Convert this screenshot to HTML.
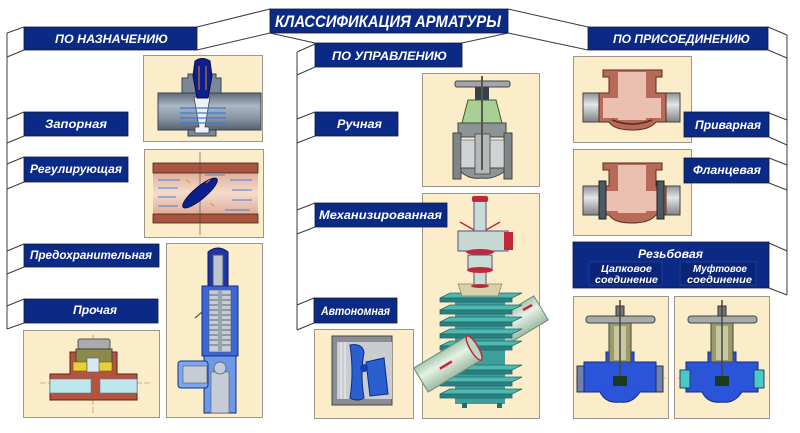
<!DOCTYPE html>
<html><head><meta charset="utf-8"><style>
html,body{margin:0;padding:0;background:#fff;}
svg{display:block;}
.t{font-family:"Liberation Sans","DejaVu Sans",sans-serif;font-weight:bold;font-style:italic;fill:#fff;}
</style></head><body>
<svg width="800" height="433" viewBox="0 0 800 433" xmlns="http://www.w3.org/2000/svg">
<defs>
<linearGradient id="gGray" x1="0" y1="0" x2="0" y2="1">
<stop offset="0" stop-color="#5f6b7b"/><stop offset="0.35" stop-color="#aab6c4"/><stop offset="0.7" stop-color="#8793a3"/><stop offset="1" stop-color="#56606e"/></linearGradient>
<linearGradient id="gCu" x1="0" y1="0" x2="0" y2="1">
<stop offset="0" stop-color="#d49a86"/><stop offset="0.5" stop-color="#f5dbcc"/><stop offset="1" stop-color="#d49a86"/></linearGradient>
<linearGradient id="gPipeG" x1="0" y1="0" x2="0" y2="1">
<stop offset="0" stop-color="#8d9294"/><stop offset="0.4" stop-color="#e4e6e6"/><stop offset="1" stop-color="#7d8284"/></linearGradient>
<linearGradient id="gGreen" x1="0" y1="0" x2="0" y2="1">
<stop offset="0" stop-color="#a9c8b0"/><stop offset="0.4" stop-color="#e6f2e4"/><stop offset="1" stop-color="#9dbba4"/></linearGradient>
</defs>
<rect width="800" height="433" fill="#fff"/>

<!-- image frames -->
<g fill="#fbecca" stroke="#9c978b" stroke-width="1">
<rect x="143.5" y="55.5" width="119" height="86"/>
<rect x="144.5" y="149.5" width="119" height="88"/>
<rect x="166.5" y="243.5" width="96" height="174"/>
<rect x="23.5" y="330.5" width="136" height="87"/>
<rect x="422.5" y="73.5" width="117" height="113"/>
<rect x="422.5" y="193.5" width="117" height="225"/>
<rect x="314.5" y="329.5" width="99" height="89"/>
<rect x="573.5" y="56.5" width="118" height="86"/>
<rect x="573.5" y="149.5" width="118" height="86"/>
<rect x="573.5" y="296.5" width="95" height="122"/>
<rect x="674.5" y="296.5" width="95" height="122"/>
</g>

<!-- Запорная -->
<rect x="158" y="93" width="103" height="37" fill="url(#gGray)" stroke="#3b4350"/>
<path d="M182 93 V78 H188 V74 H216 V78 H221 V93 Z" fill="#7c8797" stroke="#3b4350"/>
<path d="M188 130 V136 H216 V130 Z" fill="#7c8797" stroke="#3b4350"/>
<path d="M194 97 L210 97 L205 127 H209 V133 H195 V127 H199 Z" fill="#eef2f6" stroke="#3b4350" stroke-width="0.8"/>
<path d="M195 61 Q202 56 210 61 L212 76 L208 98 H197 L193 76 Z" fill="#0d1f8c" stroke="#061050"/>
<g stroke="#e08030" stroke-width="1"><line x1="199" y1="66" x2="199" y2="90"/><line x1="206" y1="66" x2="206" y2="90"/></g>
<g stroke="#3a7ad8" stroke-width="1.2"><line x1="180" y1="108" x2="226" y2="108"/><line x1="180" y1="113" x2="226" y2="113"/><line x1="180" y1="118" x2="226" y2="118"/><line x1="180" y1="123" x2="226" y2="123"/></g>

<!-- Регулирующая -->
<rect x="153" y="163" width="105" height="60" fill="url(#gCu)"/>
<rect x="153" y="163" width="105" height="10" fill="#a8553f" stroke="#4a2418" stroke-width="0.8"/>
<rect x="153" y="214" width="105" height="9" fill="#a8553f" stroke="#4a2418" stroke-width="0.8"/>
<line x1="200" y1="152" x2="200" y2="235" stroke="#444" stroke-width="0.6"/>
<g stroke="#4a80d8" stroke-width="0.9"><line x1="158" y1="180" x2="180" y2="180"/><line x1="158" y1="188" x2="178" y2="188"/><line x1="158" y1="197" x2="176" y2="197"/><line x1="158" y1="206" x2="178" y2="206"/><line x1="230" y1="180" x2="252" y2="180"/><line x1="232" y1="190" x2="252" y2="190"/><line x1="232" y1="200" x2="252" y2="200"/><line x1="225" y1="210" x2="250" y2="210"/><line x1="205" y1="175" x2="225" y2="175"/></g>
<ellipse cx="200" cy="193" rx="22" ry="6" transform="rotate(-40 200 193)" fill="#0d1f8c" stroke="#061050"/>
<g stroke="#f08a20" stroke-width="1"><line x1="190" y1="183" x2="186" y2="180"/><line x1="210" y1="203" x2="214" y2="206"/><line x1="206" y1="183" x2="210" y2="180"/></g>

<!-- Предохранительная -->
<path d="M208 252 Q218 244 228 252 V287 H208 Z" fill="#1d35a8" stroke="#0a1660"/>
<rect x="213" y="255" width="10" height="32" fill="#bcc4cc" stroke="#556"/>
<rect x="202" y="286" width="36" height="70" fill="#3a66d8" stroke="#12307a"/>
<rect x="209" y="290" width="22" height="62" fill="#c5ccd6" stroke="#556" stroke-width="0.6"/>
<g stroke="#5a6470" stroke-width="1"><line x1="209" y1="295" x2="231" y2="295"/><line x1="209" y1="300" x2="231" y2="300"/><line x1="209" y1="305" x2="231" y2="305"/><line x1="209" y1="310" x2="231" y2="310"/><line x1="209" y1="315" x2="231" y2="315"/><line x1="209" y1="320" x2="231" y2="320"/><line x1="209" y1="325" x2="231" y2="325"/><line x1="209" y1="330" x2="231" y2="330"/><line x1="209" y1="335" x2="231" y2="335"/><line x1="209" y1="340" x2="231" y2="340"/><line x1="209" y1="345" x2="231" y2="345"/></g>
<rect x="218" y="290" width="4" height="62" fill="#9aa4ae"/>
<path d="M204 356 H236 V413 H204 Z" fill="#6f98ea" stroke="#12307a"/>
<rect x="211" y="372" width="18" height="41" fill="#c5ccd6" stroke="#556" stroke-width="0.6"/>
<circle cx="220" cy="368" r="6" fill="#c5ccd6" stroke="#556" stroke-width="0.7"/>
<rect x="178" y="361" width="30" height="27" rx="3" fill="#7ea6ee" stroke="#12307a"/>
<rect x="183" y="366" width="24" height="17" fill="#c5ccd6" stroke="#556" stroke-width="0.6"/>
<line x1="202" y1="312" x2="195" y2="318" stroke="#555" stroke-width="1.2"/>

<!-- Прочая -->
<line x1="40" y1="383" x2="150" y2="383" stroke="#c07050" stroke-width="0.6" stroke-dasharray="6 2"/>
<line x1="93" y1="335" x2="93" y2="415" stroke="#c07050" stroke-width="0.6" stroke-dasharray="6 2"/>
<path d="M50 374 H70 V352 H117 V374 H137 V400 H50 Z" fill="#b4533f" stroke="#5a2418"/>
<rect x="50" y="379" width="41" height="14" fill="#bfe6ec" stroke="#5a8090" stroke-width="0.6"/>
<rect x="100" y="379" width="37" height="14" fill="#bfe6ec" stroke="#5a8090" stroke-width="0.6"/>
<rect x="78" y="339" width="32" height="10" rx="2" fill="#a8acac" stroke="#555"/>
<rect x="76" y="349" width="36" height="16" fill="#8c8a48" stroke="#444"/>
<rect x="73" y="362" width="14" height="9" fill="#e8cf3a" stroke="#6a5a10" stroke-width="0.6"/>
<rect x="98" y="362" width="14" height="9" fill="#e8cf3a" stroke="#6a5a10" stroke-width="0.6"/>
<rect x="87" y="358" width="12" height="14" fill="#d8e8ee" stroke="#556" stroke-width="0.6"/>

<!-- Ручная -->
<rect x="455" y="81" width="55" height="6" rx="2" fill="#a0a6ac" stroke="#444"/>
<rect x="475" y="87" width="14" height="13" fill="#3a4048"/>
<path d="M462 123 L468 100 H496 L502 123 Z" fill="#a8cf94" stroke="#3d5a30"/>
<path d="M458 123 H506 V137 H458 Z" fill="#8c9494" stroke="#444"/>
<rect x="453" y="133" width="8" height="46" fill="#7e8686" stroke="#444"/>
<rect x="504" y="133" width="8" height="46" fill="#7e8686" stroke="#444"/>
<rect x="461" y="140" width="43" height="28" fill="#cfd3d3" stroke="#555" stroke-width="0.6"/>
<path d="M461 168 H504 V172 Q492 180 482 178 Q470 180 461 172 Z" fill="#8c9494" stroke="#444"/>
<rect x="475" y="134" width="15" height="40" fill="#b4baba" stroke="#444" stroke-width="0.8"/>
<line x1="482" y1="76" x2="482" y2="170" stroke="#555" stroke-width="2"/>

<!-- Механизированная -->
<g transform="translate(421 380) rotate(-31)"><rect x="0" y="-14" width="140" height="28" fill="url(#gGreen)" stroke="#6a8a70"/></g>
<rect x="455" y="296" width="50" height="108" fill="#3e9e9c"/>
<g fill="#4fb8b0" stroke="#1f6a6c" stroke-width="0.8">
<path d="M440 298 L450 293 H522 L512 298 Z"/><rect x="440" y="298" width="72" height="4" fill="#2a8080"/>
<path d="M440 310 L450 305 H522 L512 310 Z"/><rect x="440" y="310" width="72" height="4" fill="#2a8080"/>
<path d="M440 322 L450 317 H522 L512 322 Z"/><rect x="440" y="322" width="72" height="4" fill="#2a8080"/>
<path d="M440 334 L450 329 H522 L512 334 Z"/><rect x="440" y="334" width="72" height="4" fill="#2a8080"/>
<path d="M440 346 L450 341 H522 L512 346 Z"/><rect x="440" y="346" width="72" height="4" fill="#2a8080"/>
<path d="M440 370 L450 365 H522 L512 370 Z"/><rect x="440" y="370" width="72" height="4" fill="#2a8080"/>
<path d="M440 382 L450 377 H522 L512 382 Z"/><rect x="440" y="382" width="72" height="4" fill="#2a8080"/>
<path d="M440 394 L450 389 H522 L512 394 Z"/><rect x="440" y="394" width="72" height="4" fill="#2a8080"/>
</g>
<rect x="462" y="403" width="5" height="5" fill="#2a6a6a"/><rect x="497" y="403" width="5" height="5" fill="#2a6a6a"/>
<g transform="translate(421 380) rotate(-31)"><rect x="0" y="-14" width="62" height="28" fill="url(#gGreen)" stroke="#6a8a70"/><ellipse cx="62" cy="0" rx="4" ry="14" fill="#bcd4c2" stroke="#c0283a" stroke-width="1.5"/><line x1="22" y1="0" x2="36" y2="0" stroke="#d0203a" stroke-width="2.5"/></g>
<line x1="523" y1="310" x2="532" y2="305" stroke="#d0203a" stroke-width="2.5"/>
<path d="M458 284 H502 L498 296 H462 Z" fill="#d8d0aa" stroke="#8a8060" stroke-width="0.7"/>
<rect x="474" y="198" width="12" height="88" fill="#c8dcd6" stroke="#557"/>
<rect x="472" y="196" width="16" height="6" rx="2" fill="#c0283a"/>
<g stroke="#c0283a" stroke-width="1.5"><line x1="460" y1="222" x2="474" y2="230"/><line x1="500" y1="222" x2="486" y2="230"/></g>
<rect x="458" y="231" width="50" height="20" fill="#c8d8d4" stroke="#557"/>
<rect x="504" y="232" width="9" height="18" fill="#c0283a"/>
<ellipse cx="480" cy="252" rx="14" ry="3" fill="#c0283a"/>
<rect x="468" y="255" width="24" height="14" fill="#c8dcd6" stroke="#557"/>
<ellipse cx="480" cy="270" rx="13" ry="3" fill="#c0283a"/>
<ellipse cx="480" cy="286" rx="9" ry="2" fill="#c0283a"/>

<!-- Автономная -->
<rect x="332" y="336" width="60" height="69" fill="#8a8e92" stroke="#444"/>
<rect x="337" y="342" width="55" height="57" fill="#c9ccd0"/>
<g stroke="#eef0f2" stroke-width="1"><line x1="341" y1="342" x2="341" y2="399"/><line x1="345" y1="342" x2="345" y2="399"/></g>
<path d="M350 345 Q362 343 364 352 Q360 375 364 398 Q358 402 350 398 Q354 372 350 345 Z" fill="#2a5fd0" stroke="#0f2a80"/>
<path d="M366 362 L384 358 L388 394 L370 396 Z" fill="#2a5fd0" stroke="#0f2a80"/>
<circle cx="364" cy="368" r="4" fill="#1a3fa8"/>

<!-- Приварная -->
<rect x="583" y="93" width="97" height="29" fill="url(#gPipeG)" stroke="#444"/>
<path d="M603 70 H662 V77 H656 V93 H666 V122 H656 Q650 130 632 130 Q614 130 609 122 H599 V93 H609 V77 H603 Z" fill="#b86a58" stroke="#5a2a20"/>
<rect x="618" y="72" width="28" height="48" fill="#ecc0b0"/>
<rect x="603" y="98" width="58" height="20" fill="#ecc0b0"/>
<path d="M612 120 Q632 128 652 120" fill="none" stroke="#5a2a20" stroke-width="1.5"/>

<!-- Фланцевая -->
<rect x="583" y="186" width="97" height="29" fill="url(#gPipeG)" stroke="#444"/>
<path d="M603 163 H662 V170 H656 V186 H666 V215 H656 Q650 223 632 223 Q614 223 609 215 H599 V186 H609 V170 H603 Z" fill="#b86a58" stroke="#5a2a20"/>
<rect x="618" y="165" width="28" height="48" fill="#ecc0b0"/>
<rect x="603" y="191" width="58" height="20" fill="#ecc0b0"/>
<rect x="599" y="181" width="7" height="38" fill="#4a5a62" stroke="#222"/>
<rect x="657" y="181" width="7" height="38" fill="#4a5a62" stroke="#222"/>

<!-- Цапковое -->
<line x1="576" y1="378" x2="666" y2="378" stroke="#88a" stroke-width="0.6" stroke-dasharray="6 2"/>
<rect x="577" y="366" width="18" height="26" fill="#7080a8" stroke="#334"/>
<rect x="645" y="366" width="18" height="26" fill="#7080a8" stroke="#334"/>
<path d="M584 362 H606 V352 H634 V362 H656 V392 H640 Q632 404 620 402 Q606 404 600 392 H584 Z" fill="#2a55d8" stroke="#102a80"/>
<rect x="609" y="322" width="22" height="40" fill="#9a9a6a" stroke="#444"/>
<rect x="614" y="326" width="12" height="34" fill="#c8c8a0"/>
<rect x="586" y="316" width="69" height="7" rx="3" fill="#a8aaa8" stroke="#444"/>
<rect x="616" y="306" width="8" height="10" fill="#777" stroke="#333"/>
<line x1="620" y1="300" x2="620" y2="380" stroke="#444" stroke-width="1.5"/>
<rect x="613" y="376" width="14" height="10" fill="#1a3a20"/>

<!-- Муфтовое -->
<line x1="678" y1="378" x2="767" y2="378" stroke="#88a" stroke-width="0.6" stroke-dasharray="6 2"/>
<path d="M686 362 H708 V352 H736 V362 H758 V392 H742 Q734 404 722 402 Q708 404 702 392 H686 Z" fill="#2a55d8" stroke="#102a80"/>
<rect x="680" y="370" width="10" height="18" fill="#48c8c8" stroke="#246"/>
<rect x="754" y="370" width="10" height="18" fill="#48c8c8" stroke="#246"/>
<rect x="711" y="322" width="22" height="40" fill="#9a9a6a" stroke="#444"/>
<rect x="716" y="326" width="12" height="34" fill="#c8c8a0"/>
<rect x="688" y="316" width="69" height="7" rx="3" fill="#a8aaa8" stroke="#444"/>
<rect x="718" y="306" width="8" height="10" fill="#777" stroke="#333"/>
<line x1="722" y1="300" x2="722" y2="380" stroke="#444" stroke-width="1.5"/>
<rect x="715" y="376" width="14" height="10" fill="#1a3a20"/>

<!-- connectors -->
<g stroke="#3a3a3a" stroke-width="1" fill="none">
<line x1="270" y1="9" x2="197" y2="27"/><line x1="270" y1="33" x2="197" y2="50"/>
<line x1="270" y1="33" x2="315" y2="43"/><line x1="508" y1="33" x2="462" y2="43"/>
<line x1="508" y1="9" x2="588" y2="27"/><line x1="508" y1="33" x2="588" y2="50"/>
<line x1="7" y1="33" x2="7" y2="329"/>
<line x1="24" y1="27" x2="7" y2="33"/><line x1="24" y1="50" x2="7" y2="57"/>
<line x1="24" y1="112" x2="7" y2="119"/><line x1="24" y1="136" x2="7" y2="143"/>
<line x1="24" y1="157" x2="7" y2="164"/><line x1="24" y1="182" x2="7" y2="189"/>
<line x1="24" y1="244" x2="7" y2="251"/><line x1="24" y1="267" x2="7" y2="274"/>
<line x1="24" y1="299" x2="7" y2="306"/><line x1="24" y1="323" x2="7" y2="329"/>
<line x1="297" y1="52" x2="297" y2="330"/>
<line x1="315" y1="44" x2="297" y2="52"/><line x1="315" y1="67" x2="297" y2="75"/>
<line x1="315" y1="112" x2="297" y2="119"/><line x1="315" y1="136" x2="297" y2="143"/>
<line x1="315" y1="203" x2="297" y2="210"/><line x1="315" y1="227" x2="297" y2="234"/>
<line x1="314" y1="298" x2="297" y2="305"/><line x1="314" y1="323" x2="297" y2="330"/>
<line x1="787" y1="35" x2="787" y2="295"/>
<line x1="768" y1="27" x2="787" y2="35"/><line x1="768" y1="50" x2="787" y2="58"/>
<line x1="769" y1="113" x2="787" y2="120"/><line x1="769" y1="137" x2="787" y2="145"/>
<line x1="769" y1="158" x2="787" y2="165"/><line x1="769" y1="183" x2="787" y2="190"/>
<line x1="769" y1="243" x2="787" y2="251"/><line x1="769" y1="288" x2="787" y2="295"/>
</g>

<!-- label boxes (on top of frames) -->
<g fill="#0b2a86" stroke="#14183a" stroke-width="0.8">
<rect x="270" y="9" width="238" height="24"/>
<rect x="24" y="27" width="173" height="23"/>
<rect x="315" y="43" width="147" height="24"/>
<rect x="588" y="27" width="180" height="23"/>
<rect x="24" y="112" width="104" height="24"/>
<rect x="24" y="157" width="104" height="25"/>
<rect x="24" y="244" width="135" height="23"/>
<rect x="24" y="299" width="134" height="24"/>
<rect x="315" y="112" width="83" height="24"/>
<rect x="315" y="203" width="132" height="24"/>
<rect x="314" y="298" width="83" height="25"/>
<rect x="684" y="112" width="85" height="25"/>
<rect x="684" y="158" width="85" height="25"/>
<rect x="573" y="242" width="196" height="46"/>
</g>
<g fill="#0a2478" stroke="#2f4aa0" stroke-width="0.6">
<rect x="589" y="262" width="73" height="23"/>
<rect x="680" y="262" width="76" height="23"/>
</g>

<!-- label text -->
<text class="t" x="275" y="27" font-size="17" textLength="226" lengthAdjust="spacingAndGlyphs">КЛАССИФИКАЦИЯ АРМАТУРЫ</text>
<text class="t" x="55" y="43" font-size="11.5" textLength="113" lengthAdjust="spacingAndGlyphs">ПО НАЗНАЧЕНИЮ</text>
<text class="t" x="332" y="60" font-size="11.5" textLength="115" lengthAdjust="spacingAndGlyphs">ПО УПРАВЛЕНИЮ</text>
<text class="t" x="613" y="43" font-size="11.5" textLength="137" lengthAdjust="spacingAndGlyphs">ПО ПРИСОЕДИНЕНИЮ</text>
<text class="t" x="45" y="128" font-size="12" textLength="62" lengthAdjust="spacingAndGlyphs">Запорная</text>
<text class="t" x="30" y="173" font-size="12" textLength="92" lengthAdjust="spacingAndGlyphs">Регулирующая</text>
<text class="t" x="30" y="259" font-size="12" textLength="122" lengthAdjust="spacingAndGlyphs">Предохранительная</text>
<text class="t" x="73" y="314" font-size="12" textLength="44" lengthAdjust="spacingAndGlyphs">Прочая</text>
<text class="t" x="337" y="128" font-size="12" textLength="45" lengthAdjust="spacingAndGlyphs">Ручная</text>
<text class="t" x="319" y="219" font-size="12" textLength="123" lengthAdjust="spacingAndGlyphs">Механизированная</text>
<text class="t" x="321" y="315" font-size="12" textLength="69" lengthAdjust="spacingAndGlyphs">Автономная</text>
<text class="t" x="695" y="129" font-size="12" textLength="66" lengthAdjust="spacingAndGlyphs">Приварная</text>
<text class="t" x="693" y="174" font-size="12" textLength="68" lengthAdjust="spacingAndGlyphs">Фланцевая</text>
<text class="t" x="638" y="258" font-size="12" textLength="65" lengthAdjust="spacingAndGlyphs">Резьбовая</text>
<text class="t" x="601" y="272" font-size="10" textLength="51" lengthAdjust="spacingAndGlyphs">Цапковое</text>
<text class="t" x="595" y="283" font-size="10" textLength="63" lengthAdjust="spacingAndGlyphs">соединение</text>
<text class="t" x="693" y="272" font-size="10" textLength="54" lengthAdjust="spacingAndGlyphs">Муфтовое</text>
<text class="t" x="687" y="283" font-size="10" textLength="65" lengthAdjust="spacingAndGlyphs">соединение</text>
</svg>
</body></html>
